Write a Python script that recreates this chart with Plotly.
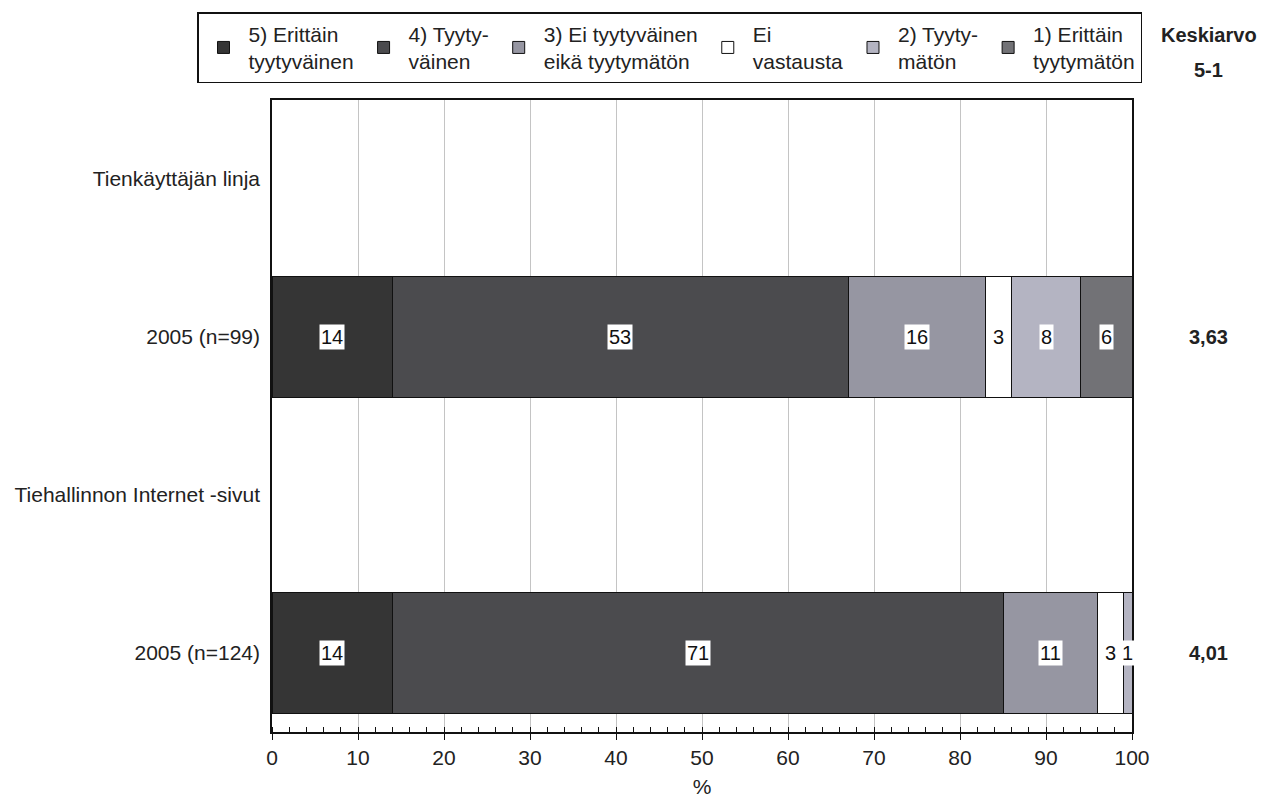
import plotly.graph_objects as go

categories = ["Tienkäyttäjän linja", "2005 (n=99)", "Tiehallinnon Internet -sivut", "2005 (n=124)"]
series_names = [
    "5) Erittäin<br>tyytyväinen",
    "4) Tyyty-<br>väinen",
    "3) Ei tyytyväinen<br>eikä tyytymätön",
    "Ei<br>vastausta",
    "2) Tyyty-<br>mätön",
    "1) Erittäin<br>tyytymätön",
]
s5 = [None, 14, None, 14]
s4 = [None, 53, None, 71]
s3 = [None, 16, None, 11]
s_ei = [None, 3, None, 3]
s2 = [None, 8, None, 1]
s1 = [None, 6, None, 0]
means = [None, "3,63", None, "4,01"]
colors = ["#353535", "#4b4b4e", "#9696a2", "#ffffff", "#b4b4c2", "#727276"]

series_values = [s5, s4, s3, s_ei, s2, s1]
FONT = "Liberation Sans, Arial, sans-serif"
FS = 21

fig = go.Figure()
for name, vals, col in zip(series_names, series_values, colors):
    fig.add_trace(go.Bar(
        y=categories, x=vals, name=name, orientation="h",
        marker=dict(color=col, line=dict(color="#111111", width=1)),
        width=0.77, hoverinfo="x+name",
    ))

annotations = []
# value labels with white boxes, centred in each segment
for i, cat in enumerate(categories):
    cum = 0
    for vals in series_values:
        v = vals[i]
        if v is None:
            continue
        if v > 0:
            annotations.append(dict(
                x=cum + v / 2, y=cat, xref="x", yref="y", text=str(v),
                showarrow=False, bgcolor="white", borderpad=1,
                font=dict(family=FONT, size=FS - 1, color="#111111"),
            ))
        cum += v
    if means[i] is not None:
        annotations.append(dict(
            x=1.0895, y=cat, xref="paper", yref="y", text="<b>%s</b>" % means[i],
            xanchor="center", yanchor="middle", showarrow=False,
            font=dict(family=FONT, size=FS - 1, color="#222222"),
        ))

annotations.append(dict(x=1.0895, y=1.103, xref="paper", yref="paper",
                        xanchor="center", yanchor="middle",
                        text="<b>Keskiarvo</b>", showarrow=False,
                        font=dict(family=FONT, size=FS - 1, color="#222222")))
annotations.append(dict(x=1.0895, y=1.047, xref="paper", yref="paper",
                        xanchor="center", yanchor="middle",
                        text="<b>5-1</b>", showarrow=False,
                        font=dict(family=FONT, size=FS - 1, color="#222222")))

fig.update_layout(
    width=1263, height=798,
    margin=dict(l=272, r=131, t=100, b=66, autoexpand=False),
    barmode="stack",
    plot_bgcolor="white", paper_bgcolor="white",
    font=dict(family=FONT, size=FS, color="#222222"),
    legend=dict(
        orientation="h", x=-0.0872, y=1.139, xanchor="left", yanchor="top",
        traceorder="normal", bordercolor="#111111", borderwidth=1.5,
        bgcolor="white", itemwidth=40,
        font=dict(family=FONT, size=FS, color="#222222"),
    ),
    annotations=annotations,
    showlegend=True,
)
fig.update_xaxes(
    range=[0, 100], dtick=10, showgrid=True, gridcolor="#c4c4c4", gridwidth=1,
    showline=True, linecolor="#111111", linewidth=1.5, mirror=True,
    ticks="outside", ticklen=6, tickcolor="#111111", ticklabelstandoff=0,
    minor=dict(dtick=2, ticks="inside", ticklen=5, tickcolor="#111111", showgrid=False),
    title=dict(text="%", font=dict(family=FONT, size=FS), standoff=14),
    tickfont=dict(family=FONT, size=FS), zeroline=False, automargin=False,
)
fig.update_yaxes(
    categoryorder="array", categoryarray=categories, autorange="reversed",
    showline=True, linecolor="#111111", linewidth=1.5, mirror=True,
    ticks="", ticklabelstandoff=6, tickfont=dict(family=FONT, size=FS),
    showgrid=False, automargin=False,
)

fig.write_html("out.html", config={"displayModeBar": False},
               post_script="document.body.style.margin='0';document.body.style.overflow='hidden';")
